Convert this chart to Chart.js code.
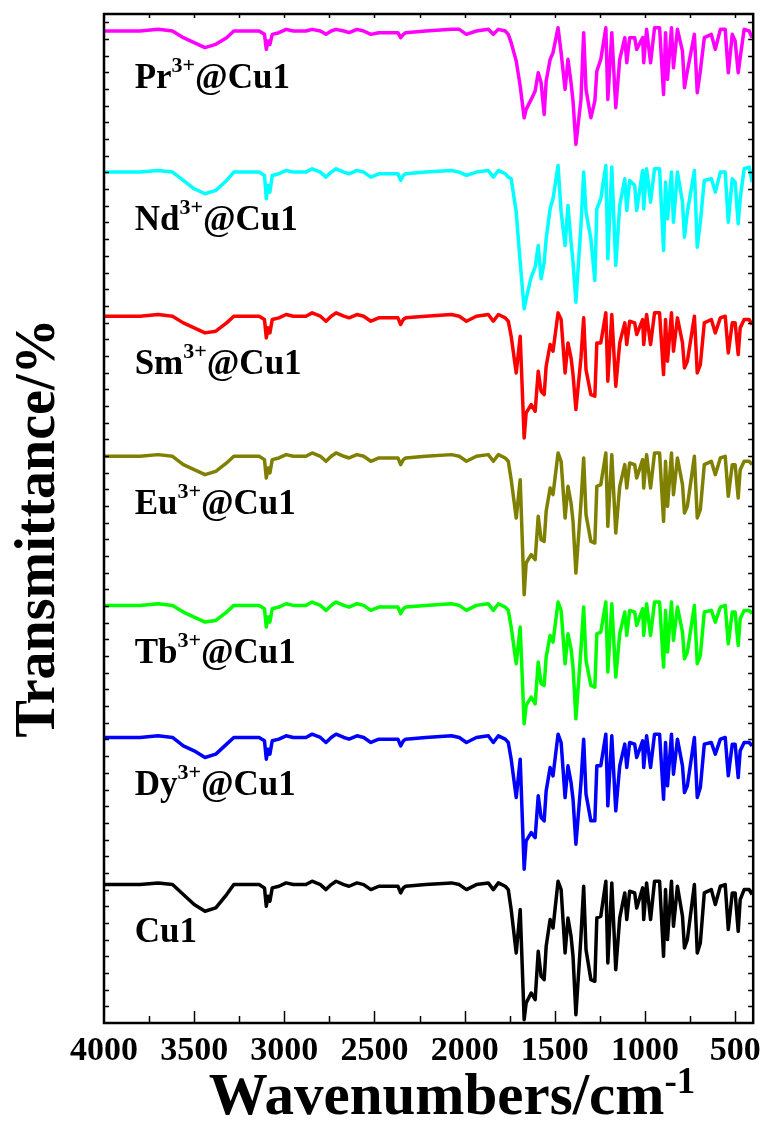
<!DOCTYPE html>
<html>
<head>
<meta charset="utf-8">
<script src="https://cdn.jsdelivr.net/npm/chart.js@4.4.0/dist/chart.umd.min.js"></script>
<style>
  html, body { margin: 0; padding: 0; background: #fff; }
  #wrap { width: 769px; height: 1124px; }
</style>
</head>
<body>
<div id="wrap"><canvas id="ftir" width="769" height="1124"></canvas></div>
<script>
// FT-IR spectra of Cu1 and the Ln3+@Cu1 samples, stacked with vertical offsets
const wavenumbers = [
  4000, 3800, 3700, 3620, 3560, 3500, 3440, 3380, 3320, 3280,
  3200, 3140, 3110, 3100, 3090, 3080, 3067, 3030, 2990, 2950,
  2918, 2880, 2846, 2800, 2769, 2740, 2713, 2670, 2641, 2597,
  2560, 2520, 2476, 2404, 2370, 2355, 2340, 2327, 2216, 2073,
  2030, 1990, 1935, 1869, 1841, 1813, 1775, 1758, 1742, 1714,
  1692, 1670, 1659, 1631, 1609, 1592, 1576, 1559, 1548, 1526,
  1510, 1482, 1465, 1443, 1427, 1410, 1399, 1383, 1355, 1340,
  1327, 1300, 1278, 1267, 1245, 1217, 1206, 1184, 1162, 1140,
  1112, 1101, 1085, 1057, 1046, 1013, 1007, 991, 969, 947,
  919, 897, 886, 875, 853, 842, 820, 792, 781, 765,
  726, 710, 693, 671, 632, 610, 582, 555, 538, 516,
  500, 483, 472, 450, 422, 406
];

// transmittance (%) of each sample
const cu1 = [
  83, 83, 84, 83, 77, 71, 67, 69, 77, 83,
  83, 83, 81, 70, 76, 73, 81, 82, 84, 83,
  83, 83, 85, 83, 80, 83, 85, 83, 82, 84,
  83, 80, 82, 82, 82, 78, 81, 82, 83, 84,
  83, 80, 83, 84, 80, 84, 82, 80, 68, 42,
  68, 2, 12, 18, 14, 43, 28, 26, 46, 62,
  57, 85, 80, 42, 63, 52, 40, 5, 52, 82,
  44, 26, 25, 63, 64, 85, 36, 84, 32, 63,
  78, 62, 79, 78, 69, 81, 62, 84, 62, 85,
  85, 40, 80, 50, 85, 58, 82, 64, 45, 50,
  83, 42, 48, 78, 80, 71, 82, 83, 56, 78,
  78, 55, 74, 80, 80, 77
];
const dy = [
  83, 83, 84, 83, 78, 75, 71, 73, 79, 83,
  83, 83, 81, 70, 76, 73, 81, 82, 84, 83,
  83, 83, 85, 83, 80, 83, 85, 83, 82, 84,
  83, 80, 82, 82, 82, 78, 81, 82, 83, 84,
  83, 80, 83, 84, 80, 84, 82, 80, 70, 47,
  70, 4, 21, 26, 23, 48, 35, 33, 51, 65,
  60, 85, 80, 47, 66, 56, 46, 19, 56, 82,
  49, 33, 33, 66, 66, 85, 42, 84, 39, 66,
  79, 65, 80, 79, 71, 81, 65, 84, 65, 85,
  85, 46, 80, 54, 85, 61, 82, 66, 50, 54,
  83, 47, 53, 79, 80, 73, 82, 83, 60, 79,
  79, 59, 75, 80, 80, 78
];
const tb = [
  83, 83, 84, 83, 79, 76, 73, 74, 79, 83,
  83, 83, 81, 70, 76, 73, 81, 82, 84, 83,
  83, 83, 85, 83, 80, 83, 85, 83, 82, 84,
  83, 80, 82, 82, 82, 78, 81, 82, 83, 84,
  83, 80, 83, 84, 80, 84, 82, 80, 70, 48,
  70, 12, 23, 28, 24, 49, 36, 35, 52, 65,
  61, 85, 80, 48, 66, 57, 46, 15, 57, 82,
  50, 35, 34, 66, 67, 85, 43, 84, 40, 66,
  79, 65, 80, 79, 71, 81, 65, 84, 65, 85,
  85, 46, 80, 55, 85, 62, 82, 67, 51, 55,
  83, 48, 53, 79, 80, 73, 82, 83, 60, 79,
  79, 59, 75, 80, 80, 78
];
const eu = [
  83, 83, 84, 83, 78, 75, 72, 74, 79, 83,
  83, 83, 81, 70, 76, 73, 81, 82, 84, 83,
  83, 83, 85, 83, 80, 83, 85, 83, 82, 84,
  83, 80, 82, 82, 82, 78, 81, 82, 83, 84,
  83, 80, 83, 84, 80, 84, 82, 80, 69, 46,
  69, 0, 19, 24, 21, 47, 33, 32, 50, 64,
  60, 85, 80, 46, 65, 55, 44, 13, 55, 82,
  48, 32, 31, 65, 66, 85, 41, 84, 37, 65,
  78, 64, 79, 78, 70, 81, 64, 84, 64, 85,
  85, 44, 80, 53, 85, 60, 82, 66, 49, 53,
  83, 46, 51, 78, 80, 72, 82, 83, 59, 78,
  78, 58, 75, 80, 80, 78
];
const sm = [
  83, 83, 84, 83, 79, 76, 73, 74, 79, 83,
  83, 83, 81, 70, 76, 73, 81, 82, 84, 83,
  83, 83, 85, 83, 80, 83, 85, 83, 82, 84,
  83, 80, 82, 82, 82, 78, 81, 82, 83, 84,
  83, 80, 83, 84, 80, 84, 82, 80, 71, 49,
  71, 10, 25, 30, 26, 50, 38, 36, 53, 66,
  62, 85, 81, 49, 67, 58, 48, 27, 58, 82,
  51, 36, 35, 67, 67, 85, 44, 84, 41, 67,
  79, 66, 80, 79, 72, 81, 66, 84, 66, 85,
  85, 48, 81, 56, 85, 62, 82, 67, 52, 56,
  83, 49, 54, 79, 81, 73, 82, 83, 61, 79,
  79, 60, 76, 81, 81, 78
];
const nd = [
  83, 83, 84, 83, 78, 73, 70, 72, 78, 83,
  83, 83, 81, 67, 75, 71, 81, 82, 84, 83,
  83, 83, 85, 83, 80, 83, 85, 83, 82, 84,
  83, 80, 82, 82, 82, 78, 81, 82, 83, 84,
  83, 81, 83, 84, 80, 84, 82, 80, 79, 59,
  29, 1, 7, 20, 26, 39, 19, 29, 43, 61,
  67, 87, 59, 39, 63, 41, 29, 5, 51, 83,
  59, 43, 18, 61, 67, 87, 31, 86, 27, 63,
  79, 60, 78, 75, 60, 84, 61, 85, 65, 85,
  85, 36, 77, 55, 83, 53, 83, 65, 44, 59,
  84, 38, 53, 78, 79, 71, 83, 83, 53, 79,
  77, 52, 67, 85, 86, 77
];
const pr = [
  83, 83, 84, 83, 79, 76, 73, 75, 79, 83,
  83, 83, 81, 72, 77, 75, 81, 82, 84, 83,
  83, 83, 84, 83, 81, 83, 84, 83, 82, 84,
  83, 81, 82, 82, 82, 79, 81, 82, 83, 84,
  84, 81, 83, 84, 81, 84, 83, 81, 76, 65,
  50, 31, 36, 42, 47, 58, 52, 33, 53, 66,
  70, 85, 70, 48, 66, 52, 41, 15, 42, 82,
  48, 31, 41, 59, 66, 85, 42, 82, 37, 66,
  79, 64, 79, 79, 72, 79, 64, 84, 64, 85,
  85, 45, 82, 54, 85, 61, 84, 71, 49, 59,
  81, 46, 59, 79, 81, 72, 84, 84, 58, 81,
  77, 58, 67, 84, 83, 79
];

const ions = ['', 'Dy', 'Tb', 'Eu', 'Sm', 'Nd', 'Pr'];
const colors = ['#000000', '#0000ff', '#00ff00', '#808000', '#ff0000', '#00ffff', '#ff00ff'];
const offsets = [0, 88.2, 167.4, 256.8, 340.8, 427.2, 511.8];
const spectra = [cu1, dy, tb, eu, sm, nd, pr];
const xTicks = [4000, 3500, 3000, 2500, 2000, 1500, 1000, 500];

const serif = '"Liberation Serif", "Times New Roman", serif';
const labelWn = 3830;
const labelLevel = 54;

// text with one raised, smaller run in the middle (3+, -1)
function drawRichText(ctx, parts, x, y, size, align) {
  const supSize = Math.round(size * 0.62);
  let widths = parts.map((p) => {
    ctx.font = `bold ${p.sup ? supSize : size}px ${serif}`;
    return ctx.measureText(p.t).width;
  });
  let total = widths.reduce((a, b) => a + b, 0);
  let cx = align === 'center' ? x - total / 2 : x;
  parts.forEach((p, i) => {
    ctx.font = `bold ${p.sup ? supSize : size}px ${serif}`;
    ctx.fillText(p.t, cx, p.sup ? y - size * 0.36 : y);
    cx += widths[i];
  });
}

const sampleLabels = {
  id: 'sampleLabels',
  afterDatasetsDraw(chart) {
    const {ctx, scales: {x, y}} = chart;
    ctx.save();
    ctx.fillStyle = '#000';
    ctx.textAlign = 'left';
    ctx.textBaseline = 'middle';
    ions.forEach((ion, i) => {
      let px = x.getPixelForValue(labelWn);
      let py = y.getPixelForValue(offsets[i] + labelLevel);
      let parts = ion ? [{t: ion}, {t: '3+', sup: true}, {t: '@Cu1'}] : [{t: 'Cu1'}];
      drawRichText(ctx, parts, px, py, 35, 'left');
    });
    ctx.restore();
  }
};

const frame = {
  id: 'frame',
  afterDraw(chart) {
    const {ctx, chartArea: a, scales: {x, y}} = chart;
    ctx.save();
    ctx.strokeStyle = '#000';
    ctx.lineWidth = 1.5;
    ctx.beginPath();
    for (let w = 500; w < 4000; w += 250) {
      let px = Math.round(x.getPixelForValue(w)) + 0.5;
      let major = w % 500 === 0;
      ctx.moveTo(px, a.bottom);
      ctx.lineTo(px, a.bottom - (major ? 12 : 7));
      ctx.moveTo(px, a.top);
      ctx.lineTo(px, a.top + 4);
    }
    for (let v = 10; v < 605; v += 10) {
      let py = Math.round(y.getPixelForValue(v)) + 0.5;
      ctx.moveTo(a.left, py);
      ctx.lineTo(a.left + 5, py);
      ctx.moveTo(a.right, py);
      ctx.lineTo(a.right - 5, py);
    }
    ctx.stroke();
    ctx.lineWidth = 2.5;
    ctx.strokeRect(a.left, a.top, a.right - a.left, a.bottom - a.top);

    // axis titles
    ctx.fillStyle = '#000';
    ctx.textBaseline = 'alphabetic';
    ctx.textAlign = 'left';
    drawRichText(ctx, [{t: 'Wavenumbers/cm'}, {t: '-1', sup: true}], 452, 1114, 59, 'center');
    ctx.translate(54, 528);
    ctx.rotate(-Math.PI / 2);
    drawRichText(ctx, [{t: 'Transmittance/%'}], 0, 0, 56, 'center');
    ctx.restore();
  }
};

const datasets = spectra.map((s, i) => ({
  label: ions[i] ? ions[i] + '3+@Cu1' : 'Cu1',
  data: wavenumbers.map((w, j) => ({x: w, y: s[j] + offsets[i]})),
  borderColor: colors[i],
  borderWidth: 3.5,
  pointRadius: 0,
  tension: 0,
  borderJoinStyle: 'round',
  fill: false
}));

new Chart(document.getElementById('ftir'), {
  type: 'line',
  data: {datasets},
  options: {
    responsive: false,
    animation: false,
    devicePixelRatio: 1,
    layout: {padding: {top: 14, right: 13, left: 0, bottom: 0}},
    plugins: {legend: {display: false}, tooltip: {enabled: false}},
    scales: {
      x: {
        type: 'linear',
        reverse: true,
        min: 400,
        max: 4000,
        afterBuildTicks: (scale) => { scale.ticks = xTicks.map((v) => ({value: v})); },
        afterFit: (scale) => { scale.height = 101; },
        grid: {display: false, drawTicks: false},
        border: {display: false},
        ticks: {
          color: '#000',
          padding: 8,
          maxRotation: 0,
          autoSkip: false,
          font: {family: serif, weight: 'bold', size: 34},
          callback: (v) => String(v)
        }
      },
      y: {
        min: 0,
        max: 605,
        afterFit: (scale) => { scale.width = 104; },
        grid: {display: false, drawTicks: false},
        border: {display: false},
        ticks: {display: false}
      }
    }
  },
  plugins: [sampleLabels, frame]
});
</script>
</body>
</html>
